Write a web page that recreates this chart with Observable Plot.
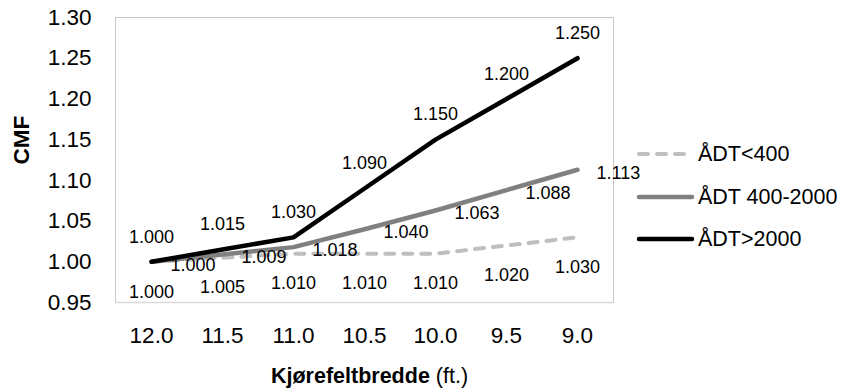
<!DOCTYPE html>
<html><head><meta charset="utf-8">
<script src="https://cdn.jsdelivr.net/npm/d3@7"></script>
<script src="https://cdn.jsdelivr.net/npm/@observablehq/plot@0.6"></script>
<style>
body{margin:0;background:#fff;font-family:"Liberation Sans",Arial,sans-serif;color:#000;}
#wrap{position:relative;width:841px;height:388px;overflow:hidden;}
#wrap svg{display:block;}
.xtitle{position:absolute;left:369.5px;top:366px;transform:translateX(-50%);font-size:21.5px;line-height:21px;white-space:nowrap;}
.ytitle{position:absolute;left:21px;top:140px;transform:translate(-50%,-50%) rotate(-90deg);font-size:22.5px;font-weight:bold;line-height:21px;white-space:nowrap;}
.legend{position:absolute;left:636px;top:0;}
.lrow{position:absolute;left:0;height:30px;display:flex;align-items:center;white-space:nowrap;font-size:21.5px;}
.lrow svg{margin-right:2px;}
</style></head><body><div id="wrap"></div>
<script>
const widths = ["12.0","11.5","11.0","10.5","10.0","9.5","9.0"];
const adtLow = [1.000,1.005,1.010,1.010,1.010,1.020,1.030];
const adtMid = [1.000,1.009,1.018,1.040,1.063,1.088,1.113];
const adtHigh = [1.000,1.015,1.030,1.090,1.150,1.200,1.250];
const seriesNames = ["ÅDT<400","ÅDT 400-2000","ÅDT>2000"];
const yTicks = [0.95,1.00,1.05,1.10,1.15,1.20,1.25,1.30];
const colors = ["#bfbfbf","#808080","#000000"];
const dashes = ["9,9",null,null];

const rows = s => widths.map((w,i)=>({w, v: s[i]}));
const low = rows(adtLow), mid = rows(adtMid), high = rows(adtHigh);
const fmt = d => d.v.toFixed(3);

const chart = Plot.plot({
  width: 841, height: 388,
  marginLeft: 115, marginRight: 228, marginTop: 17, marginBottom: 86,
  style: {fontFamily: "'Liberation Sans', Arial, sans-serif", background: "#fff", color: "#000"},
  x: {type: "point", domain: widths, padding: 0.5},
  y: {domain: [0.95, 1.30]},
  marks: [
    Plot.frame({stroke: "#8c8c8c", strokeDasharray: "1,1"}),
    Plot.ruleY([0.95], {stroke: "#d9d9d9", strokeWidth: 1.5}),
    Plot.axisX({tickSize: 0, tickPadding: 25, fontSize: 22.5, label: null}),
    Plot.axisY({ticks: yTicks, tickFormat: ".2f", tickSize: 0, tickPadding: 24, fontSize: 22.5, label: null}),
    Plot.line(low, {x: "w", y: "v", stroke: colors[0], strokeWidth: 4, strokeDasharray: dashes[0], strokeLinecap: "round", strokeLinejoin: "round"}),
    Plot.line(mid, {x: "w", y: "v", stroke: colors[1], strokeWidth: 4.5, strokeLinecap: "round", strokeLinejoin: "round"}),
    Plot.line(high, {x: "w", y: "v", stroke: colors[2], strokeWidth: 4.5, strokeLinecap: "round", strokeLinejoin: "round"}),
    Plot.text(low, {x: "w", y: "v", text: fmt, dy: 30, fontSize: 18, fill: "#000"}),
    Plot.text(mid, {x: "w", y: "v", text: fmt, dx: 19, dy: 3, textAnchor: "start", fontSize: 18, fill: "#000"}),
    Plot.text(high, {x: "w", y: "v", text: fmt, dy: -25, fontSize: 18, fill: "#000"})
  ]
});

const wrap = document.getElementById("wrap");
wrap.appendChild(chart);

const yt = document.createElement("div");
yt.className = "ytitle"; yt.textContent = "CMF";
wrap.appendChild(yt);

const xt = document.createElement("div");
xt.className = "xtitle";
xt.innerHTML = "<b>Kjørefeltbredde</b> (ft.)";
wrap.appendChild(xt);

const legend = document.createElement("div");
legend.className = "legend";
const centers = [154, 197, 239];
seriesNames.forEach((name, i) => {
  const r = document.createElement("div");
  r.className = "lrow";
  r.style.top = (centers[i] - 15) + "px";
  const sw = i === 0 ? 4 : 4.5;
  r.innerHTML = `<svg width="60" height="10"><line x1="3" y1="5" x2="56" y2="5" stroke="${colors[i]}" stroke-width="${sw}" stroke-linecap="round"${dashes[i] ? ` stroke-dasharray="${dashes[i]}"` : ""}/></svg><span>${name}</span>`;
  legend.appendChild(r);
});
wrap.appendChild(legend);
</script>
</body></html>
